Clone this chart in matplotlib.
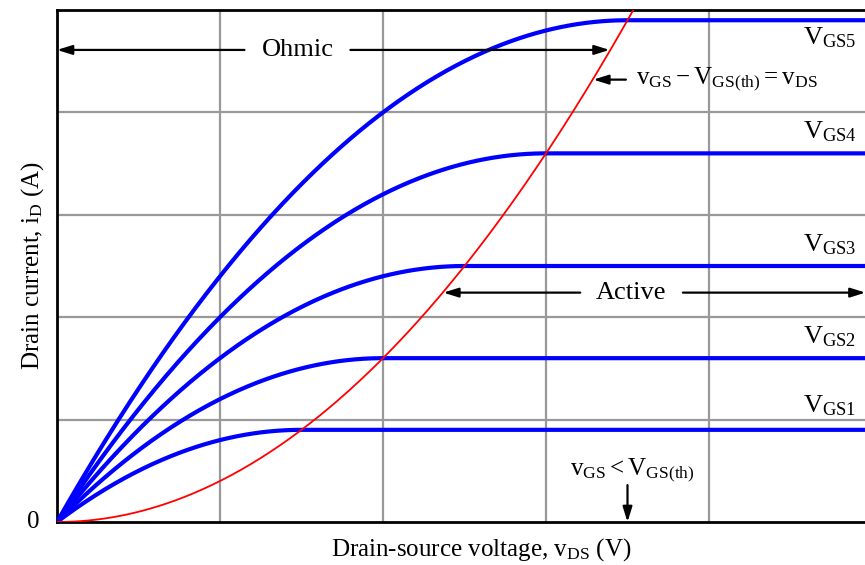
import numpy as np
import matplotlib.pyplot as plt

plt.rcParams['font.family'] = ['Liberation Serif', 'DejaVu Serif']
plt.rcParams['mathtext.fontset'] = 'custom'
plt.rcParams['mathtext.rm'] = 'Liberation Serif'
plt.rcParams['mathtext.it'] = 'Liberation Serif'

# square-law parameters
k = 0.4                                   # i_D = k * v_DS^2 on the boundary
v_ov = [1.5, 2.0, 2.5, 3.0, 3.5]          # vGS - VGS(th) for VGS1..VGS5
curve_names = ['GS1', 'GS2', 'GS3', 'GS4', 'GS5']
label_y = [1.14, 1.81, 2.71, 3.81, 4.73]

fig = plt.figure(figsize=(8.65, 5.65), dpi=100)
ax = fig.add_axes([57/865, 43/565, 815/865, 512/565])
ax.set_xlim(0, 5)
ax.set_ylim(0, 5)

v = np.linspace(0, 5, 600)
for vo in v_ov:
    i = np.where(v < vo, k * (2 * vo * v - v**2), k * vo**2)
    ax.plot(v, i, color='#0000ff', lw=3, solid_capstyle='butt', zorder=3)

vb = np.linspace(0, 3.6, 300)
ax.plot(vb, k * vb**2, color='#ff0000', lw=1.3, zorder=4)

for name, y in zip(curve_names, label_y):
    ax.text(4.74, y, r'$\mathrm{V}_{\mathrm{%s}}$' % name, fontsize=19,
            ha='center', va='center')

ax.set_xticks([1, 2, 3, 4])
ax.set_yticks([1, 2, 3, 4])
ax.tick_params(length=0, labelbottom=False, labelleft=False)
ax.grid(color='#999999', lw=1.6)
ax.set_axisbelow(True)
for s in ['top', 'left', 'bottom']:
    ax.spines[s].set_linewidth(2)
ax.spines['right'].set_visible(False)

ax.text(-0.11, 0, '0', fontsize=18, ha='right', va='center')
ax.set_xlabel(r'Drain-source voltage, $\mathrm{v}_{\mathrm{DS}}$ (V)', fontsize=18)
ax.xaxis.set_label_coords(0.52, -0.027, transform=ax.transAxes)
ax.xaxis.label.set_va('top')
ax.set_ylabel(r'Drain current, $\mathrm{i}_{\mathrm{D}}$ (A)', fontsize=18, labelpad=8)

arr = dict(arrowstyle='-|>,head_length=0.9,head_width=0.28', color='black', lw=1.6,
           shrinkA=0, shrinkB=0)

# Ohmic
ax.annotate('', xy=(0, 4.61), xytext=(1.15, 4.61), arrowprops=arr)
ax.text(1.48, 4.61, 'Ohmic', fontsize=19, ha='center', va='center')
ax.annotate('', xy=(3.39, 4.61), xytext=(1.80, 4.61), arrowprops=arr)

# boundary label
ax.annotate('', xy=(3.29, 4.32), xytext=(3.49, 4.32), arrowprops=arr)
ax.text(3.55, 4.32, r'$\mathrm{v}_{\mathrm{GS}} - \mathrm{V}_{\mathrm{GS(th)}} = \mathrm{v}_{\mathrm{DS}}$',
        fontsize=18, ha='left', va='center')

# Active
ax.annotate('', xy=(2.37, 2.24), xytext=(3.21, 2.24), arrowprops=arr)
ax.text(3.52, 2.24, 'Active', fontsize=19, ha='center', va='center')
ax.annotate('', xy=(4.96, 2.24), xytext=(3.84, 2.24), arrowprops=arr,
            annotation_clip=False)

# cutoff
ax.text(3.53, 0.51, r'$\mathrm{v}_{\mathrm{GS}} < \mathrm{V}_{\mathrm{GS(th)}}$',
        fontsize=18, ha='center', va='center')
ax.annotate('', xy=(3.50, 0), xytext=(3.50, 0.36), arrowprops=arr)

fig.savefig('out.png', dpi=100)
